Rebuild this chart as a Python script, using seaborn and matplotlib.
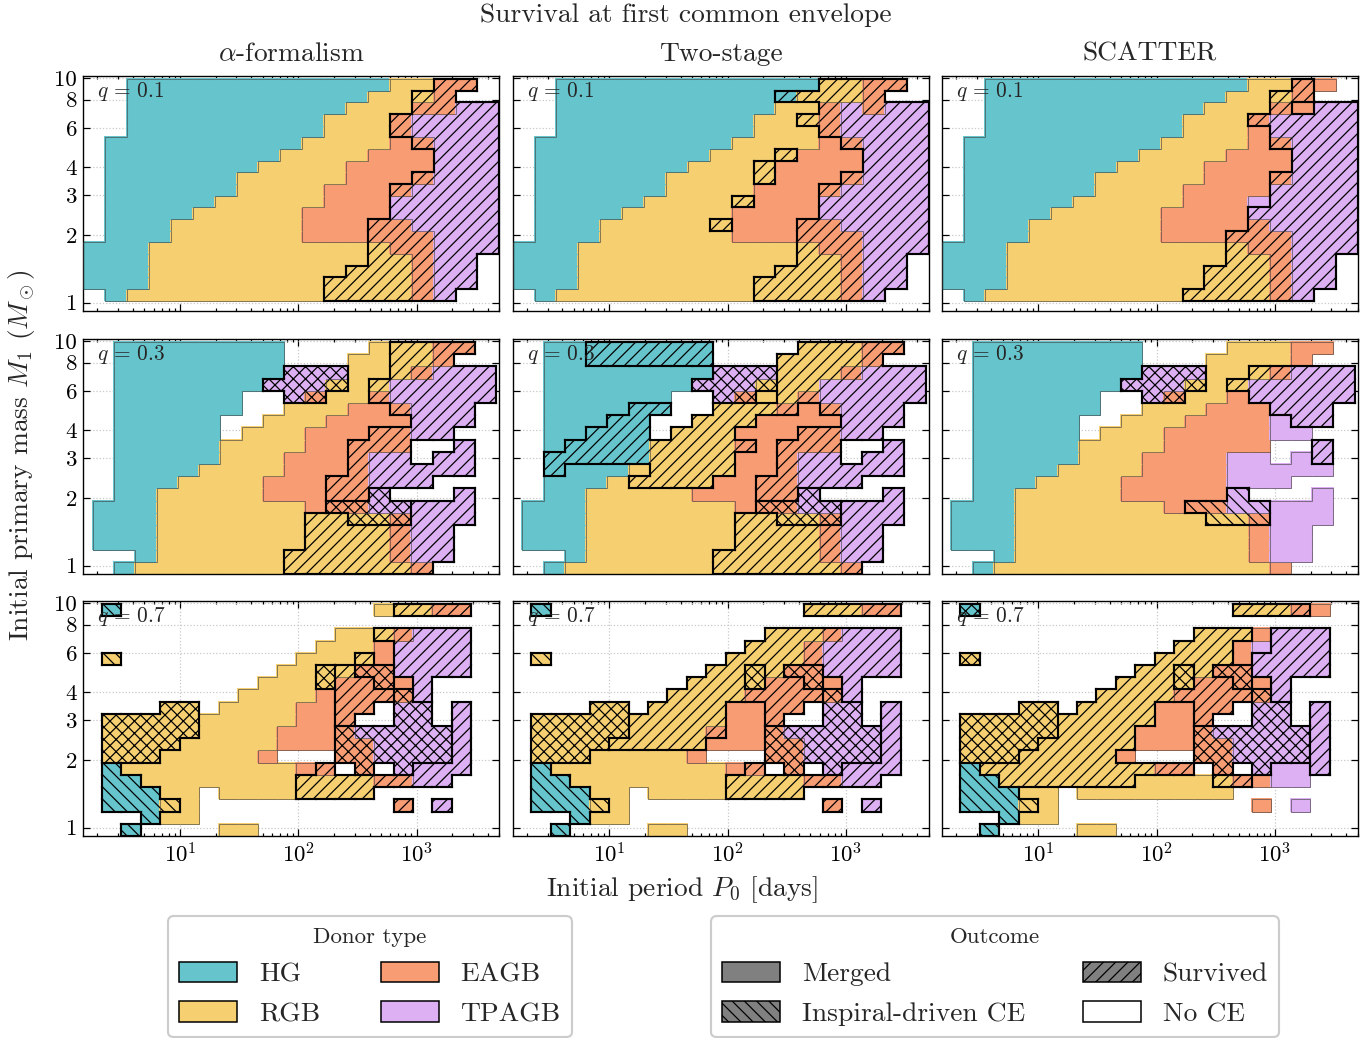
import numpy as np
import matplotlib
matplotlib.use("Agg")
import matplotlib.pyplot as plt
import seaborn as sns
from matplotlib.colors import ListedColormap
from matplotlib.collections import LineCollection
from matplotlib.patches import Rectangle, Patch
from matplotlib.ticker import FixedLocator, FixedFormatter, NullLocator, LogLocator, NullFormatter

# ---------------- data ----------------
MODELS = [r"$\alpha$-formalism", "Two-stage", "SCATTER"]
MASS_RATIOS = ["0.1", "0.3", "0.7"]
DONOR_TYPES = ["HG", "RGB", "EAGB", "TPAGB"]
DONOR_COLORS = ["#66C5CC", "#F6CF71", "#F89C74", "#DCB0F2"]
OUTCOMES = ["Merged", "Inspiral-driven CE", "Survived", "No CE"]
MASS_TICKS = [1, 2, 3, 4, 6, 8, 10]
MASS_TICK_LABELS = ["1", "2", "3", "4", "6", "8", "10"]

# simulation grid per mass ratio: (log10 of first cell edge, log10 step)
GRID_LOGP = {"0.1": (0.1826, 0.1851), "0.3": (0.2646, 0.1794), "0.7": (0.3407, 0.1643)}
GRID_LOGM = {"0.1": (0.0088, 0.05193), "0.3": (-0.037, 0.05435), "0.7": (-0.037, 0.05435)}

# cell codes (rows: high mass at top, columns: short period at left)
#   '.' no CE | h r e t  merged (HG, RGB, EAGB, TPAGB) | H R E T survived
#   a b c d inspiral-driven CE, merged | A B C D inspiral-driven CE, survived
ALPHA_Q01 = [
    "..hhhhhhhhhhhhrrEE.",
    "..hhhhhhhhhhhrrRE..",
    "..hhhhhhhhhhrrrEETT",
    "..hhhhhhhhhrrrETTTT",
    "..hhhhhhhhhrrrETTTT",
    ".hhhhhhhhhrrrreETTT",
    ".hhhhhhhhrrrreeeTTT",
    ".hhhhhhhrrrreeeeTTT",
    ".hhhhhhrrrrreeeETTT",
    ".hhhhhhrrrreeeETTTT",
    ".hhhhhrrrrreeeTTTTT",
    ".hhhhrrrrreeeeTTTTT",
    ".hhhrrrrrreeeEETTTT",
    ".hhhrrrrrreeeEEETTT",
    "hhhrrrrrrrrrrREETTT",
    "hhhrrrrrrrrrrRRETT.",
    "hhhrrrrrrrrrRRRETT.",
    "hhhrrrrrrrrRRRRETT.",
    ".hrrrrrrrrrRRRRET..",
]
TWOSTAGE_Q01 = [
    "..hhhhhhhhhhhhRREE.",
    "..hhhhhhhhhhHRRRE..",
    "..hhhhhhhhhhrrETETT",
    "..hhhhhhhhhrrRETTTT",
    "..hhhhhhhhhrrrETTTT",
    ".hhhhhhhhhrrrreETTT",
    ".hhhhhhhhrrrReeeTTT",
    ".hhhhhhhrrrReeeeTTT",
    ".hhhhhhrrrrReeeETTT",
    ".hhhhhhrrrreeeETTTT",
    ".hhhhhrrrrReeeTTTTT",
    ".hhhhrrrrreeeeTTTTT",
    ".hhhrrrrrReeeEETTTT",
    ".hhhrrrrrreeeEEETTT",
    "hhhrrrrrrrrrrREETTT",
    "hhhrrrrrrrrrrRRETT.",
    "hhhrrrrrrrrrRRRETT.",
    "hhhrrrrrrrrRRRRETT.",
    ".hrrrrrrrrrRRRRET..",
]
SCATTER_Q01 = [
    "..hhhhhhhhhhhhrrEe.",
    "..hhhhhhhhhhhrrRE..",
    "..hhhhhhhhhhrrrEeTT",
    "..hhhhhhhhhrrrETTTT",
    "..hhhhhhhhhrrreTTTT",
    ".hhhhhhhhhrrrreETTT",
    ".hhhhhhhhrrrreeeTTT",
    ".hhhhhhhrrrreeeeTTT",
    ".hhhhhhrrrrreeeETTT",
    ".hhhhhhrrrreeeeTTTT",
    ".hhhhhrrrrreeetTTTT",
    ".hhhhrrrrreeeeTTTTT",
    ".hhhrrrrrreeeeETTTT",
    ".hhhrrrrrreeeEEETTT",
    "hhhrrrrrrrrrrREETTT",
    "hhhrrrrrrrrrrRRETT.",
    "hhhrrrrrrrrrRRRETT.",
    "hhhrrrrrrrrrRRRETT.",
    ".hrrrrrrrrrRRRRET..",
]
ALPHA_Q03 = [
    ".hhhhhhhh....rRREE.",
    ".hhhhhhhh...rrRRE..",
    ".hhhhhhhhDDDrrRETTT",
    ".hhhhhhhDDDBrRTTTTT",
    ".hhhhhh..DCrrETTTTT",
    ".hhhhhh..rrreeETTT.",
    ".hhhhh..rrreeeeTTT.",
    ".hhhhh.rrreeeEETT..",
    ".hhhhhrrrreeEEE..T.",
    ".hhhhhrrreeeETT.TT.",
    ".hhhhrrrreeeETTTTT.",
    ".hhhrrrreeeEETTT...",
    ".hhrrrrreeeEED...T.",
    "hhhrrrrrrreCCDDTTT.",
    "hhhrrrrrrrRRBBCTTT.",
    "hhhrrrrrrrRRRRETT..",
    "hhhrrrrrrrRRRRETT..",
    "..hrrrrrrRRRRRETT..",
    ".hrrrrrrrRRRRRRE...",
]
TWOSTAGE_Q03 = [
    ".hhHHHHHH....RRREE.",
    ".hhHHHHHH...RRRRE..",
    ".hhhhhhhhDDDRRRETTT",
    ".hhhhhhhDDDBRRTTTTT",
    ".hhhhhh..DCrRETTTTT",
    ".hhhhHH..RRREeETTT.",
    ".hhhHH..RRReeeeTTT.",
    ".hhHHH.RRReeeEETT..",
    ".hHHHHRRRREeEEE..T.",
    ".HHHHHRRRReeETT.TT.",
    ".HhhhrRRRReeETTTTT.",
    ".hhhrRRRReeEETTT...",
    ".hhrrrrreeeEED...T.",
    "hhhrrrrrrreCCDDTTT.",
    "hhhrrrrrrrRRBBCTTT.",
    "hhhrrrrrrrRRRRETT..",
    "hhhrrrrrrrRRRRETT..",
    "..hrrrrrrRRRRRETT..",
    ".hrrrrrrrRRRRRRE...",
]
SCATTER_Q03 = [
    ".hhhhhhhh....rrree.",
    ".hhhhhhhh...rrrre..",
    ".hhhhhhhhDDDrrRETTT",
    ".hhhhhhhDDDBrRTTTTT",
    ".hhhhhh..DCrreTTTTT",
    ".hhhhhh..rrreeeTTT.",
    ".hhhhh..rrreeeetTT.",
    ".hhhhh.rrreeeeett..",
    ".hhhhhrrrreeeee..T.",
    ".hhhhhrrreeeett.tT.",
    ".hhhhrrrreeeettttt.",
    ".hhhrrrreeeeettt...",
    ".hhrrrrreeeeed...t.",
    "hhhrrrrrrreccddttt.",
    "hhhrrrrrrrrrbbcttt.",
    "hhhrrrrrrrrrrrett..",
    "hhhrrrrrrrrrrrett..",
    "..hrrrrrrrrrrrett..",
    ".hrrrrrrrrrrrrre...",
]
ALPHA_Q07 = [
    "a.............rRREE",
    "...................",
    "............rrRETTT",
    "...........rrreTTTT",
    "b.........rrrReTTTT",
    ".........rrBRCCTTTT",
    "........rrrBEECeT..",
    ".......rrrreEEECT..",
    "...BB.rrrreeEE.DD.T",
    "BBBBBrrrrreeE..DD.T",
    "BBBBBrrrreeeCDDDDDT",
    "BBBBrrrrreeeCCDDDDT",
    "BBBrrrrre...CCDDDDT",
    "arrrrrrrrreE.C.DTTT",
    "aarrrrrrrrRRRREETT.",
    "aaarr.rrrrRRRR.....",
    "aaabr..........E.T.",
    "..arr..............",
    ".a....rr...........",
]
TWOSTAGE_Q07 = [
    "a.............RRREE",
    "...................",
    "............RRRETTT",
    "...........RRRETTTT",
    "b.........RRRRETTTT",
    ".........RRBRCCTTTT",
    "........RRRBEECeT..",
    ".......RRRREEEECT..",
    "...BB.RRRReeEE.DD.T",
    "BBBBBRRRRReeE..DD.T",
    "BBBBBRRRREeeCDDDDDT",
    "BBBBRRRRReeeCCDDDDT",
    "BBBrrrrre...CCDDDDT",
    "arrrrrrrrreE.C.DTTT",
    "aarrrrrrrrRRRREETT.",
    "aaarr.rrrrRRRR.....",
    "aaabr..........E.T.",
    "..arr..............",
    ".a....rr...........",
]
SCATTER_Q07 = [
    "A.............RRREe",
    "...................",
    "............RRReTTT",
    "...........RRRetTTT",
    "B.........RRRReTTTT",
    ".........RRBRCCTTTT",
    "........RRRBEECeT..",
    ".......RRRREEEECT..",
    "...BB.RRRReeEE.DD.T",
    "BBBBBRRRRReeE..DD.T",
    "BBBBBRRRReeeCDDDDDT",
    "BBBBRRRRReeeCCDDDDT",
    "BBBRRRRRe...CCDDDDT",
    "aRRRRRRRRREE.C.DttT",
    "aaRRRRRRRrrrrREett.",
    "aaarr.rrrrrrrr.....",
    "aaabr..........e.t.",
    "..arr..............",
    ".a....rr...........",
]
PANELS = [
    [ALPHA_Q01, TWOSTAGE_Q01, SCATTER_Q01],
    [ALPHA_Q03, TWOSTAGE_Q03, SCATTER_Q03],
    [ALPHA_Q07, TWOSTAGE_Q07, SCATTER_Q07],
]

# ---------------- style ----------------
sns.set_theme(style="ticks")
plt.rcParams.update({
    "font.family": "serif",
    "font.serif": ["cmr10", "DejaVu Serif"],
    "mathtext.fontset": "cm",
    "axes.formatter.use_mathtext": True,
    "axes.unicode_minus": False,
    "hatch.linewidth": 0.4,
    "hatch.color": "black",
    "axes.edgecolor": "black",
    "axes.linewidth": 0.45,
    "xtick.color": "black",
    "ytick.color": "black",
})

DON = {c: i + 1 for s in ("hret", "HRET", "abcd", "ABCD") for i, c in enumerate(s)}
OUT = {}
for k, s in enumerate(("hret", "HRET", "abcd", "ABCD")):
    for c in s:
        OUT[c] = k
HATCH_SURV = "//////"
HATCH_INSP = "\\\\\\\\\\\\"
HATCH_BOTH = "xxxxxx"
HATCHES = {1: HATCH_SURV, 2: HATCH_INSP, 3: HATCH_BOTH}


def decode(rows, ncol=19):
    n = len(rows)
    donor = np.zeros((n, ncol), int)
    hat = np.zeros((n, ncol), int)
    for i, s in enumerate(rows[::-1]):
        s = (s + "." * ncol)[:ncol]
        for j, ch in enumerate(s):
            if ch in DON:
                donor[i, j] = DON[ch]
                hat[i, j] = OUT[ch]
    return donor, hat


def edges_segments(arr, xe, ye):
    n, m = arr.shape
    pad = np.zeros((n + 2, m + 2), int)
    pad[1:-1, 1:-1] = arr
    segs = []
    for i in range(n):
        for j in range(m + 1):
            if pad[i + 1, j] != pad[i + 1, j + 1]:
                segs.append([(xe[j], ye[i]), (xe[j], ye[i + 1])])
    for i in range(n + 1):
        for j in range(m):
            if pad[i, j + 1] != pad[i + 1, j + 1]:
                segs.append([(xe[j], ye[i]), (xe[j + 1], ye[i])])
    return segs


W_PX, H_PX, DPI = 1371, 1038, 220
fig = plt.figure(figsize=(W_PX / DPI, H_PX / DPI), dpi=DPI)
lefts = [83.3, 512.7, 941.7]
tops = [76, 339, 601]
aw, ah = 416, 235
cmap = ListedColormap(DONOR_COLORS)
XLIM = (10 ** 0.1826, 10 ** 3.699)
YLIM = (0.918, 10.2)

for r, q in enumerate(MASS_RATIOS):
    p0, dp = GRID_LOGP[q]
    m0, dm = GRID_LOGM[q]
    for c, model in enumerate(MODELS):
        ax = fig.add_axes([lefts[c] / W_PX, 1 - (tops[r] + ah) / H_PX, aw / W_PX, ah / H_PX])
        donor, hat = decode(PANELS[r][c])
        nr, nc = donor.shape
        xe = 10 ** (p0 + dp * np.arange(nc + 1))
        ye = 10 ** (m0 + dm * np.arange(nr + 1))
        ax.set_xscale("log")
        ax.set_yscale("log")
        ax.pcolormesh(xe, ye, np.ma.masked_equal(donor, 0), cmap=cmap, vmin=0.5, vmax=4.5,
                      shading="flat", edgecolors="face", linewidth=0.15, zorder=1)
        for k, hp in HATCHES.items():
            for i, j in zip(*np.nonzero(hat == k)):
                ax.add_patch(Rectangle((xe[j], ye[i]), xe[j + 1] - xe[j], ye[i + 1] - ye[i],
                                       fill=False, hatch=hp, linewidth=0, edgecolor="black", zorder=2))
        thin = LineCollection(edges_segments(donor, xe, ye), colors="0.25", linewidths=0.33,
                              alpha=0.6, zorder=3)
        ax.add_collection(thin)
        thick = LineCollection(edges_segments(hat, xe, ye), colors="black", linewidths=0.7,
                               zorder=4, capstyle="projecting")
        ax.add_collection(thick)

        ax.set_xlim(*XLIM)
        ax.set_ylim(*YLIM)
        ax.yaxis.set_major_locator(FixedLocator(MASS_TICKS))
        ax.yaxis.set_major_formatter(FixedFormatter(MASS_TICK_LABELS))
        ax.yaxis.set_minor_locator(NullLocator())
        ax.xaxis.set_major_locator(LogLocator(base=10))
        ax.xaxis.set_minor_locator(LogLocator(base=10, subs=np.arange(2, 10)))
        ax.xaxis.set_minor_formatter(NullFormatter())
        ax.tick_params(which="both", direction="in", top=True, right=True, labelsize=7.5, width=0.4, pad=2)
        ax.tick_params(which="major", length=2.2)
        ax.tick_params(which="minor", length=1.1)
        ax.set_axisbelow(True)
        ax.grid(True, which="major", ls=":", color="0.78", lw=0.4)
        if c > 0:
            ax.tick_params(labelleft=False)
        if r < 2:
            ax.tick_params(labelbottom=False)
        ax.text(0.034, 0.935, rf"$q\, =\, {q}$", transform=ax.transAxes, ha="left", va="center",
                fontsize=7, zorder=6)
        if r == 0:
            ax.text(0.5, 1.094, model, transform=ax.transAxes, ha="center", va="center", fontsize=9)

fig.text(0.5, 1 - 15 / H_PX, "Survival at first common envelope", ha="center", va="center", fontsize=9)
fig.text(22 / W_PX, 1 - 455 / H_PX, r"Initial primary mass $M_1$ ($M_\odot$)", rotation=90,
         ha="center", va="center", fontsize=9)
fig.text(682 / W_PX, 1 - 890 / H_PX, r"Initial period $P_0$ [days]", ha="center", va="center", fontsize=9)

donor_handles = [Patch(facecolor=col, edgecolor="black", linewidth=0.5, label=lab)
                 for lab, col in zip(DONOR_TYPES, DONOR_COLORS)]
outcome_style = {"Merged": ("#808080", None), "Inspiral-driven CE": ("#808080", HATCH_INSP),
                 "Survived": ("#808080", HATCH_SURV), "No CE": ("white", None)}
outcome_handles = [Patch(facecolor=outcome_style[o][0], hatch=outcome_style[o][1], edgecolor="black",
                         linewidth=0.5, label=o) for o in OUTCOMES]
common = dict(loc="upper center", ncol=2, frameon=True, fancybox=True, edgecolor="0.8",
              fontsize=9, title_fontsize=7.5, handlelength=2.1, handleheight=0.75,
              handletextpad=0.8, labelspacing=0.55, borderaxespad=0, framealpha=1)
leg1 = fig.legend(handles=donor_handles, title="Donor type", columnspacing=2.2,
                  bbox_to_anchor=(370 / W_PX, 1 - 916 / H_PX), **common)
leg2 = fig.legend(handles=outcome_handles, title="Outcome", columnspacing=2.1,
                  bbox_to_anchor=(995 / W_PX, 1 - 916 / H_PX), **common)
for lg in (leg1, leg2):
    lg.get_frame().set_linewidth(0.7)

fig.savefig("out.png", dpi=DPI)
